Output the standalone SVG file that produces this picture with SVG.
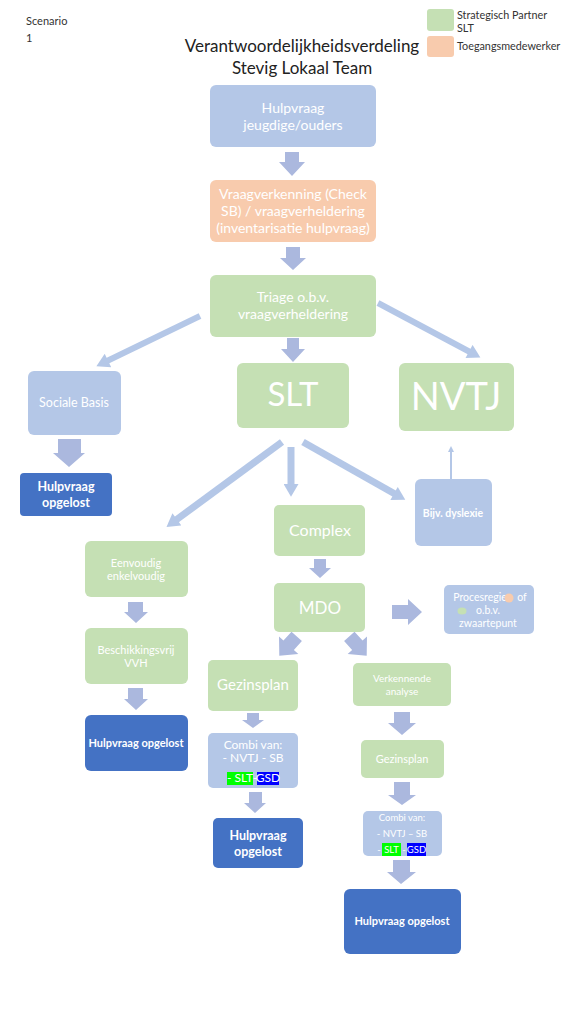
<svg xmlns="http://www.w3.org/2000/svg" width="564" height="1012" viewBox="0 0 564 1012">
<defs>
<style>
text{font-family:Lato,"Liberation Sans",sans-serif;}
.w{fill:#ffffff;text-anchor:middle;}
.b{font-weight:bold;}
.lb{fill:#b4c7e7;}
.gr{fill:#c5e0b4;}
.or{fill:#f8cbad;}
.db{fill:#4472c4;}
.ba{fill:#abb8de;}
.th{stroke:#b4c7e7;fill:none;}
.dk{fill:#333333;}
</style>
<marker id="ah" markerUnits="userSpaceOnUse" markerWidth="14" markerHeight="15" viewBox="0 0 12 14" refX="1" refY="7" orient="auto"><path d="M0,0 L12,7 L0,14 Z" fill="#b4c7e7"/></marker>
<marker id="ahs" markerUnits="userSpaceOnUse" markerWidth="6" markerHeight="6" viewBox="0 0 6 6" refX="1" refY="3" orient="auto"><path d="M0,0 L6,3 L0,6 Z" fill="#b4c7e7"/></marker>
</defs>
<rect width="564" height="1012" fill="#ffffff"/>

<g id="header">
<text x="26" y="25" font-size="11" class="dk">Scenario</text>
<text x="26" y="42" font-size="11" class="dk">1</text>
<text x="302" y="52" font-size="17" fill="#222" text-anchor="middle">Verantwoordelijkheidsverdeling</text>
<text x="302" y="74" font-size="17" fill="#222" text-anchor="middle">Stevig Lokaal Team</text>
</g>

<g id="legend">
<rect x="427" y="9" width="27" height="22" rx="3" class="gr"/>
<rect x="427" y="36" width="27" height="21" rx="3" class="or"/>
<text x="457" y="19" font-size="10.8" class="dk">Strategisch Partner</text>
<text x="457" y="32" font-size="10.8" class="dk">SLT</text>
<text x="457" y="50" font-size="10.8" class="dk">Toegangsmedewerker</text>
</g>

<g id="connectors">
<path class="ba" d="M285,152 H299 V162 H305 L292,176 L279,162 H285 Z"/>
<path class="ba" d="M286,247 H300 V258 H306 L293,270 L280,258 H286 Z"/>
<path class="ba" d="M287,338 H299 V349 H305 L293,362 L281,349 H287 Z"/>
<line class="th" x1="200" y1="316" x2="107" y2="361" stroke-width="6" marker-end="url(#ah)"/>
<line class="th" x1="378" y1="303" x2="470" y2="352" stroke-width="6" marker-end="url(#ah)"/>
<path class="ba" d="M58,439 H81 V453 H85 L69,467 L53,453 H58 Z"/>
<line class="th" x1="282" y1="442" x2="176" y2="520" stroke-width="7" marker-end="url(#ah)"/>
<line class="th" x1="291" y1="447" x2="291" y2="485" stroke-width="7" marker-end="url(#ah)"/>
<line class="th" x1="303" y1="442" x2="395" y2="494" stroke-width="7" marker-end="url(#ah)"/>
<line class="th" x1="451" y1="479" x2="451" y2="451" stroke-width="2" marker-end="url(#ahs)"/>
<path class="ba" d="M128,602 H143 V612 H148 L136,623 L124,612 H128 Z"/>
<path class="ba" d="M128,688 H143 V699 H148 L136,710 L124,699 H128 Z"/>
<path class="ba" d="M314,559 H326 V568 H331 L320,578 L309,568 H314 Z"/>
<path class="ba" d="M392,605 H408 V599 L422,612 L408,625 V619 H392 Z"/>
<path class="ba" transform="translate(288,646) rotate(42)" d="M-7,-13 H7 V-1 H13 L0,13 L-13,-1 H-7 Z"/>
<path class="ba" transform="translate(358,646) rotate(-42)" d="M-7,-13 H7 V-1 H13 L0,13 L-13,-1 H-7 Z"/>
<path class="ba" d="M247,713 H259 V720 H264 L253,728 L242,720 H247 Z"/>
<path class="ba" d="M249,792 H262 V803 H266 L255,813 L244,803 H249 Z"/>
<path class="ba" d="M394,712 H410 V723 H416 L402,735 L388,723 H394 Z"/>
<path class="ba" d="M394,782 H410 V795 H416 L402,805 L388,795 H394 Z"/>
<path class="ba" d="M393,860 H410 V872 H416 L401,884 L387,872 H393 Z"/>
</g>

<g id="hulpvraag">
<rect x="210" y="85" width="166" height="62" rx="6" class="lb"/>
<text x="293" y="113" font-size="14" class="w">Hulpvraag</text>
<text x="293" y="130" font-size="14" class="w">jeugdige/ouders</text>
</g>

<g id="vraagverkenning">
<rect x="210" y="180" width="166" height="62" rx="6" class="or"/>
<text x="293" y="199" font-size="14" class="w">Vraagverkenning (Check</text>
<text x="293" y="216" font-size="14" class="w">SB) / vraagverheldering</text>
<text x="293" y="233" font-size="14" class="w">(inventarisatie hulpvraag)</text>
</g>

<g id="triage">
<rect x="210" y="275" width="166" height="62" rx="6" class="gr"/>
<text x="293" y="302" font-size="14" class="w">Triage o.b.v.</text>
<text x="293" y="319" font-size="14" class="w">vraagverheldering</text>
</g>

<g id="sociale-basis">
<rect x="28" y="371" width="93" height="64" rx="6" class="lb"/>
<text x="74" y="407" font-size="12.5" class="w">Sociale Basis</text>
</g>

<g id="opgelost-1">
<rect x="20" y="473" width="92" height="43" rx="4" class="db"/>
<text x="66" y="491" font-size="12.5" class="w b">Hulpvraag</text>
<text x="66" y="507" font-size="12.5" class="w b">opgelost</text>
</g>

<g id="slt">
<rect x="237" y="363" width="112" height="65" rx="6" class="gr"/>
<text x="293" y="406" font-size="33" class="w">SLT</text>
</g>

<g id="nvtj">
<rect x="399" y="363" width="115" height="68" rx="6" class="gr"/>
<text x="456" y="410" font-size="38" class="w">NVTJ</text>
</g>

<g id="dyslexie">
<rect x="415" y="479" width="77" height="67" rx="6" class="lb"/>
<text x="453" y="517" font-size="10.5" class="w b">Bijv. dyslexie</text>
</g>

<g id="complex">
<rect x="274" y="505" width="91" height="51" rx="5" class="gr"/>
<text x="320" y="536" font-size="16" class="w">Complex</text>
</g>

<g id="eenvoudig">
<rect x="85" y="541" width="103" height="56" rx="6" class="gr"/>
<text x="136" y="567" font-size="11" class="w">Eenvoudig</text>
<text x="136" y="580" font-size="11" class="w">enkelvoudig</text>
</g>

<g id="beschikkingsvrij">
<rect x="85" y="628" width="103" height="56" rx="6" class="gr"/>
<text x="136" y="654" font-size="11" class="w">Beschikkingsvrij</text>
<text x="136" y="667" font-size="11" class="w">VVH</text>
</g>

<g id="opgelost-2">
<rect x="85" y="715" width="103" height="56" rx="6" class="db"/>
<text x="136" y="747" font-size="11" class="w b">Hulpvraag opgelost</text>
</g>

<g id="mdo">
<rect x="274" y="583" width="91" height="49" rx="5" class="gr"/>
<text x="320" y="614" font-size="17" class="w">MDO</text>
</g>

<g id="procesregie">
<rect x="444" y="585" width="90" height="49" rx="5" class="lb"/>
<text x="480" y="601" font-size="10.5" class="w">Procesregie</text>
<circle cx="509" cy="598" r="4.5" fill="#f8cbad"/>
<text x="522" y="601" font-size="10.5" class="w">of</text>
<ellipse cx="462" cy="611" rx="4.5" ry="3.5" fill="#c5e0b4"/>
<text x="488" y="614" font-size="10.5" class="w">o.b.v.</text>
<text x="488" y="627" font-size="10.5" class="w">zwaartepunt</text>
</g>

<g id="gezinsplan-1">
<rect x="208" y="660" width="90" height="51" rx="5" class="gr"/>
<text x="253" y="690" font-size="15" class="w">Gezinsplan</text>
</g>

<g id="verkennende">
<rect x="353" y="663" width="98" height="43" rx="5" class="gr"/>
<text x="402" y="682" font-size="10" class="w">Verkennende</text>
<text x="402" y="695" font-size="10" class="w">analyse</text>
</g>

<g id="combi-1">
<rect x="208" y="733" width="90" height="55" rx="5" class="lb"/>
<text x="253" y="749" font-size="12" class="w">Combi van:</text>
<text x="253" y="762" font-size="12" class="w">- NVTJ - SB</text>
<rect x="227" y="772" width="26" height="13" fill="#00ff00"/>
<text x="240" y="782" font-size="12" class="w">- SLT</text>
<text x="255" y="782" font-size="12" class="w">-</text>
<rect x="257" y="772" width="22" height="13" fill="#0000ff"/>
<text x="268" y="782" font-size="12" class="w">GSD</text>
</g>

<g id="opgelost-3">
<rect x="213" y="818" width="90" height="50" rx="5" class="db"/>
<text x="258" y="840" font-size="12.5" class="w b">Hulpvraag</text>
<text x="258" y="856" font-size="12.5" class="w b">opgelost</text>
</g>

<g id="gezinsplan-2">
<rect x="361" y="740" width="83" height="38" rx="5" class="gr"/>
<text x="402" y="763" font-size="11" class="w">Gezinsplan</text>
</g>

<g id="combi-2">
<rect x="363" y="811" width="79" height="45" rx="5" class="lb"/>
<text x="402" y="821" font-size="9.5" class="w">Combi van:</text>
<text x="402" y="837" font-size="9.5" class="w">- NVTJ – SB</text>
<text x="379" y="853" font-size="9.5" class="w">-</text>
<rect x="382" y="843" width="19" height="13" fill="#00ff00"/>
<text x="391.5" y="853" font-size="9.5" class="w">SLT</text>
<text x="404" y="853" font-size="9.5" class="w">-</text>
<rect x="407" y="843" width="19" height="13" fill="#0000ff"/>
<text x="416.5" y="853" font-size="9.5" class="w">GSD</text>
</g>

<g id="opgelost-4">
<rect x="344" y="889" width="117" height="65" rx="6" class="db"/>
<text x="402" y="925" font-size="11" class="w b">Hulpvraag opgelost</text>
</g>
</svg>
